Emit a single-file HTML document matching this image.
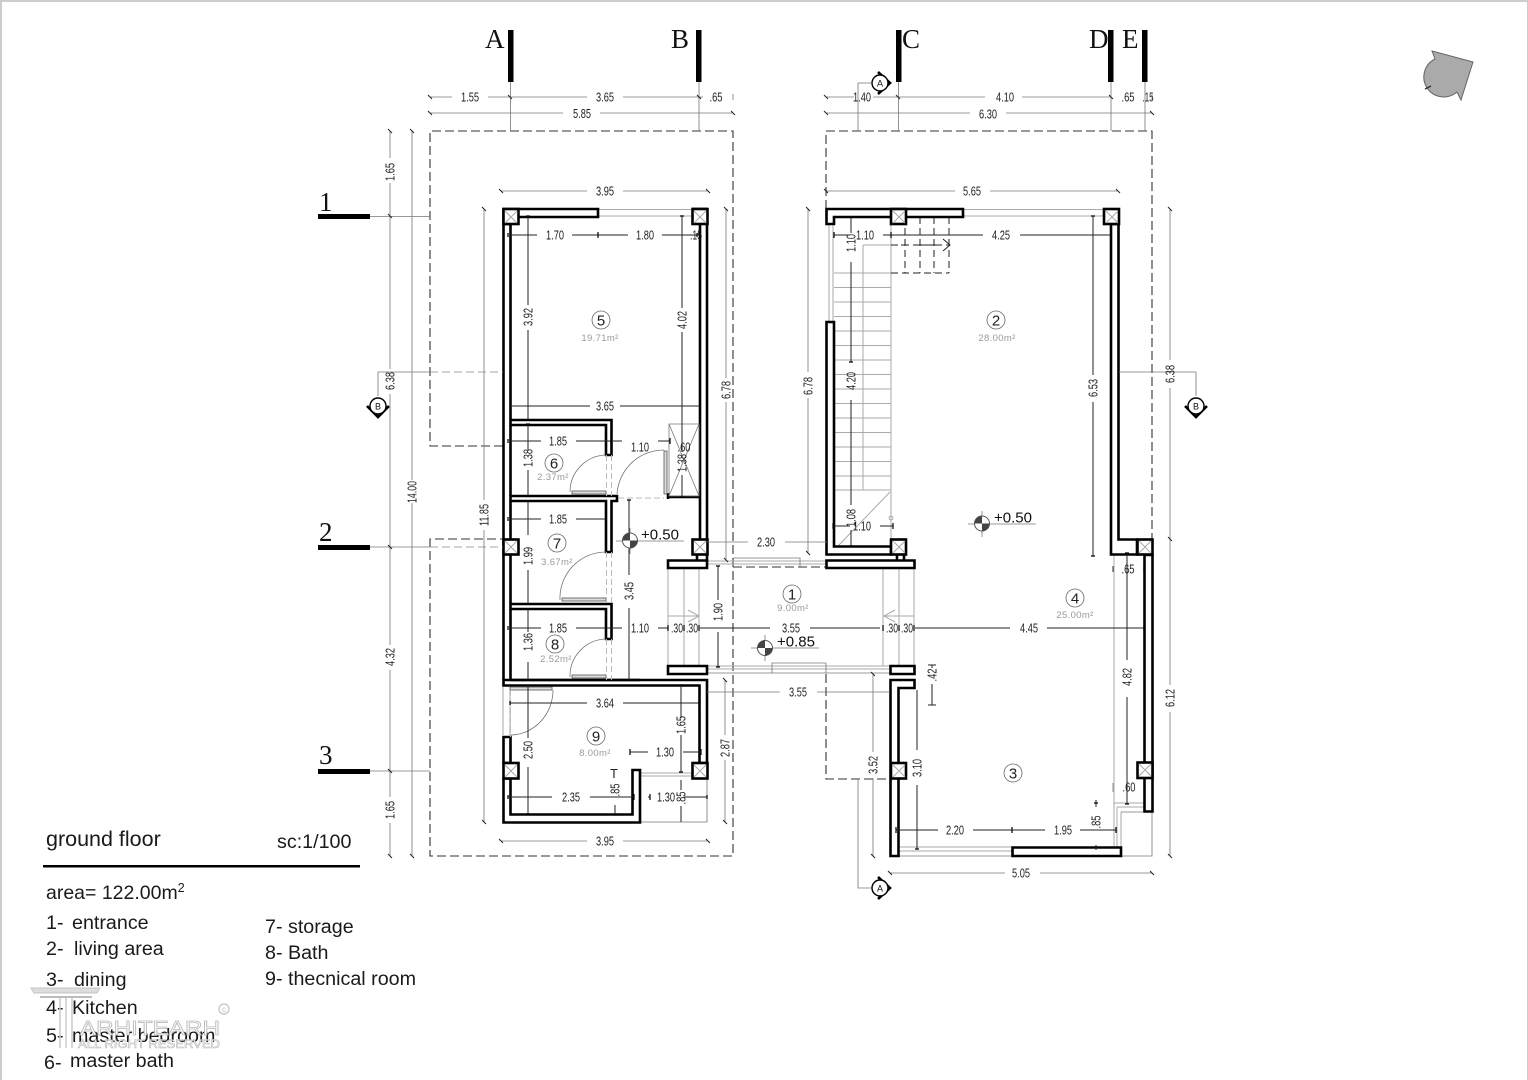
<!DOCTYPE html>
<html><head><meta charset="utf-8"><title>Ground floor plan</title>
<style>
html,body{margin:0;padding:0;background:#fff}
svg{display:block}
text{font-family:"Liberation Sans",sans-serif}
.t{font-size:12.5px;text-anchor:middle;fill:#222}
.a{font-size:9.5px;letter-spacing:.35px;text-anchor:middle;fill:#999}
.n{font-size:15px;text-anchor:middle;fill:#222}
.s{font-family:"Liberation Serif",serif;font-size:27px;fill:#111}
.g{fill:none;stroke:#777;stroke-width:.8}
.d{fill:none;stroke:#222;stroke-width:1}
.lg{fill:none;stroke:#aaa;stroke-width:1}
.w{fill:#fff;stroke:#000;stroke-width:2.6}
.h{fill:none;stroke:#000;stroke-width:2.6}
.dash{fill:none;stroke:#333;stroke-width:1.1;stroke-dasharray:9 4}
.c{fill:#fff;stroke:#666;stroke-width:.8}
</style></head><body>
<svg width="1528" height="1080" viewBox="0 0 1528 1080" xmlns="http://www.w3.org/2000/svg">
<rect width="1528" height="1080" fill="#fff"/>
<rect x="1" y="1" width="1527" height="1080" fill="none" stroke="#ccc" stroke-width="2"/>

<!-- dashed boundaries -->
<path class="dash" d="M503 446H430V131H733V856H430V539H503"/>
<path class="dash" d="M826 209V131H1152V539M826 674V779H890M733 567H826"/>

<!-- light lines -->
<path class="lg" d="M598 209.5H692M598 216H692M640 773H692M640 776H692M963 209.5H1104M963 216H1104"/>
<path class="g" d="M640 822H707V778"/>
<path class="lg" d="M707 561H826M707 564H826M707 666H890M707 669H890M668 568V666M684 568V666M699 568V666M883 568V666M899 568V666M914 568V666"/>
<path class="g" d="M733 558H800V567M772 673V663H826V673M707 673H890"/>
<path class="lg" d="M688 610L699 616L688 622M895 610L884 616L895 622M668 616H699M884 616H914"/>
<path class="lg" d="M899 847H1012M899 851H1012M1114 555V847M1114 803H1144M1117 807H1144M1117 807V847M1121 812V847"/>
<path class="g" d="M899 856H1152V812M1121 812H1144"/>
<path class="lg" d="M503 680V735M510 690V735" />

<!-- stairs -->
<path class="lg" d="M829 224V322M833 224V322M834 273H891M834 287.5H891M834 302H891M834 316.5H891M834 331H891M834 345.5H891M834 360H891M834 374.5H891M834 389H891M834 403.5H891M834 418H891M834 432.5H891M834 447H891M834 461.5H891M834 476H891M834 490H891M891 224V539M863 245V490M863 245H891M838 546L890 492"/>
<circle cx="891" cy="518" r="2" fill="none" stroke="#999" stroke-width=".8"/>
<path d="M891 245H949M891 273H949M905 217V273M920 217V273M934 217V273M949 217V273" fill="none" stroke="#222" stroke-width="1" stroke-dasharray="7 4"/>
<path class="d" d="M943 239L950 245L943 251M901 245H909M916 245H924M930 245H938"/>

<!-- WALLS left block -->
<path class="h" d="M503.5 224V680M510.5 224V420M510.5 425V496M510.5 501V604M510.5 609V680M700 224V539M707 224V539"/>
<path class="w" d="M503.5 209H598V217H510.5V224H503.5Z"/>
<path class="h" d="M692 209H707"/>
<path class="w" d="M510.5 420H611.5V455H606V425H510.5Z"/>
<path class="w" d="M510.5 496H617V501H611.5V552H606V501H510.5Z"/>
<path class="w" d="M510.5 604H611.5V639H606V609H510.5Z"/>
<path class="w" d="M503.5 680H707V763H699.5V685.5H503.5Z"/>
<path class="h" d="M510.5 680H640"/>
<path class="w" d="M503.5 737H510.5V763H503.5Z"/>
<path class="w" d="M503.5 778.5V822.5H640V770H632.5V814.5H510.5V778.5Z"/>
<path class="h" d="M668 497H699.5M668 493V499"/>
<path class="w" d="M697 554H707V561H697Z"/>
<path class="w" d="M668 560.5H707V568H668Z"/>
<path class="w" d="M668 666H707V674H668Z"/>

<!-- WALLS right block -->
<path class="w" d="M826.5 209H963V217H834V224H826.5Z"/>
<path class="w" d="M826.5 322H834V546.5H891V554.5H826.5Z"/>
<path class="w" d="M897 554H904V561H897Z"/>
<path class="w" d="M826.5 560.5H914.5V568H826.5Z"/>
<path class="w" d="M890.5 666H914.5V674H890.5Z"/>
<path class="w" d="M914.5 680H890.5V856H898.5V688H914.5Z"/>
<path class="w" d="M1012.5 847.5H1121V856H1012.5Z"/>
<path class="w" d="M1111 224V554.5H1137V539.5H1118.5V224Z"/>
<path class="w" d="M1144.5 555H1152.5V811.5H1144.5Z"/>

<!-- columns -->
<g fill="#fff" stroke="#000" stroke-width="2.6">
<rect x="503.5" y="209" width="15" height="15"/><rect x="692.5" y="209" width="15" height="15"/>
<rect x="503.5" y="539.5" width="15" height="15"/><rect x="692.5" y="539.5" width="15" height="15"/>
<rect x="503.5" y="763" width="15" height="15.5"/><rect x="692.5" y="763" width="15" height="15.5"/>
<rect x="891" y="209" width="15" height="15"/><rect x="1104" y="209" width="15" height="15"/>
<rect x="891" y="539.5" width="15" height="15"/><rect x="1137.5" y="539.5" width="15" height="15"/>
<rect x="891" y="763" width="15" height="15.5"/><rect x="1137.5" y="762.5" width="15" height="15.5"/>
</g>
<path class="lg" d="M505 211L517 223M517 211L505 223M694 211L706 223M706 211L694 223M505 541L517 553M517 541L505 553M694 541L706 553M706 541L694 553M505 765L517 777M517 765L505 777M694 765L706 777M706 765L694 777M893 211L905 223M905 211L893 223M1106 211L1118 223M1118 211L1106 223M893 541L905 553M905 541L893 553M1139 541L1151 553M1151 541L1139 553M893 765L905 777M905 765L893 777M1139 764L1151 776M1151 764L1139 776"/>

<!-- storage X -->
<path class="g" d="M669 424H699V496H669ZM669 424L699 496M699 424L669 496"/>

<!-- doors -->
<path class="g" d="M570 492A37 37 0 0 1 606 455M560 600A46 46 0 0 1 606 552M570 677A37 37 0 0 1 606 639M617 494A47 47 0 0 1 664 450M553 690A43 45 0 0 1 510 735"/>
<g fill="#ddd" stroke="#555" stroke-width=".8">
<rect x="572" y="491" width="34" height="3"/><rect x="562" y="598" width="44" height="3"/><rect x="572" y="675" width="34" height="3"/><rect x="664" y="451" width="3" height="43"/><rect x="510" y="687" width="42" height="3"/>
</g>
<path d="M606.5 455V496M611.5 455V496M606.5 552V604M611.5 552V604M606.5 639V680M611.5 639V680M618 498H664M510.5 690V737" fill="none" stroke="#bbb" stroke-width="1" stroke-dasharray="6 3"/>

<!-- section markers -->
<g fill="#000">
<rect x="508" y="30" width="5.5" height="52"/><rect x="696" y="30" width="5.5" height="52"/><rect x="896" y="30" width="5.5" height="52"/><rect x="1108" y="30" width="5.5" height="52"/><rect x="1142" y="30" width="5.5" height="52"/>
<rect x="318" y="214" width="52" height="5"/><rect x="318" y="545" width="52" height="5"/><rect x="318" y="769" width="52" height="5"/>
</g>
<text class="s" x="485" y="48">A</text><text class="s" x="671" y="48">B</text><text class="s" x="902" y="48">C</text><text class="s" x="1089" y="48">D</text><text class="s" x="1122" y="48">E</text>
<text class="s" x="319" y="211">1</text><text class="s" x="319" y="541">2</text><text class="s" x="319" y="764">3</text>

<!-- leaders -->
<path class="g" d="M510.5 82V131M699 82V131M898.5 82V131M1111 82V131M1145 82V131M370 216.5H430M370 547H430M370 771H430M378 396V372H430M1196 396V372H1119M858 131V83H871M858 779V888H871"/>
<path d="M430 372H503M430 547H503" fill="none" stroke="#888" stroke-width=".8" stroke-dasharray="8 4"/>

<!-- section bubbles -->
<g>
<path d="M878 72L890 83L878 94" fill="none" stroke="#000" stroke-width="2.600"/>
<circle cx="880" cy="83" r="8" fill="#fff" stroke="#000" stroke-width="1.400"/>
<path d="M878 877L890 888L878 899" fill="none" stroke="#000" stroke-width="2.600"/>
<circle cx="880" cy="888" r="8" fill="#fff" stroke="#000" stroke-width="1.400"/>
<path d="M367 406L378 417L389 406" fill="none" stroke="#000" stroke-width="2.600"/>
<circle cx="378" cy="406" r="8" fill="#fff" stroke="#000" stroke-width="1.400"/>
<path d="M1185 406L1196 417L1207 406" fill="none" stroke="#000" stroke-width="2.600"/>
<circle cx="1196" cy="406" r="8" fill="#fff" stroke="#000" stroke-width="1.400"/>
</g>
<g font-size="9" text-anchor="middle" fill="#111"><text x="880" y="86.500">A</text><text x="880" y="891.500">A</text><text x="378" y="409.500">B</text><text x="1196" y="409.500">B</text></g>

<!-- gray outer dim lines -->
<path class="g" d="M430 97H452M488 97H587M623 97H703M733 94V100
M430 113H563M600 113H733
M826 97H854M873 97H985M1022 97H1111M1152 94V100
M826 113H970M1006 113H1152
M501 191H587M623 191H708M826 191H955M990 191H1118
M390 131V158M390 183V369M390 394V645M390 670V797M390 823V856
M412 131V480M412 503V856
M484 209V500M484 530V822
M726 209V378M726 402V560M725 680V735M725 760V822
M808 209V372M808 398V553
M873 674V752M873 778V856
M1170 209V360M1170 388V685M1170 712V856
M501 841H587M623 841H708M890 873H1005M1040 873H1152
M707 542H748M785 542H827M707 692H780M817 692H890M528 216V305"/>

<!-- dark inner dim lines -->
<path class="d" d="M510 235H537M572 235H628M662 235H699
M528 330V420M528 216V305M682 216V308M682 332V452M682 475V497
M510 406H590M620 406H699
M510 441H541M576 441H622M658 441H670
M528 424V450M528 470V496
M510 519H541M576 519H606
M528 501V535M528 570V604
M510 628H541M576 628H622M658 628H668M700 628H770M810 628H880M915 628H1010M1047 628H1144
M528 609V632M528 662V680
M629 500V575M629 608V680
M718 566V600M718 632V667
M510 703H587M623 703H699
M681 685V718M681 735V772
M630 752H648M683 752H701
M528 685V738M528 767V814
M508 797H552M590 797H634M648 797H650M684 797H707
M615 805V814M681 780V790M681 806V822
M834 235H850M883 235H983M1020 235H1111
M851 217V233M851 262V362M851 400V505M851 530V546
M833 526H850M880 526H893
M1093 216V375M1093 402V556
M1127 553V660M1127 697V804
M917 690V750M917 785V849
M896 830H938M973 830H1045M1080 830H1116
M1096 800V807M1096 845V850
M932 665V668M932 684V705M928 705H936M928 665H936"/>

<!-- ticks -->
<path d="M428 95L432 99M508 95L512 99M697 95L701 99M428 111L432 115M731 111L735 115M824 95L828 99M896 95L900 99M1109 95L1113 99M824 111L828 115M1150 111L1154 115M499 189L503 193M706 189L710 193M824 189L828 193M1116 189L1120 193M388 129L392 133M388 214L392 218M388 545L392 549M388 769L392 773M388 854L392 858M410 129L414 133M410 854L414 858M482 207L486 211M482 820L486 824M724 207L728 211M724 558L728 562M723 678L727 682M723 820L727 824M806 207L810 211M806 551L810 555M871 672L875 676M871 854L875 858M1168 207L1172 211M1168 537L1172 541M1168 854L1172 858M499 839L503 843M706 839L710 843M888 871L892 875M1150 871L1154 875" stroke="#222" stroke-width="1"/>
<path d="M508 233V237M598 232V238M697 233V237M508 439V443M611 438V444M670 438V444M508 517V521M606 516V522M508 626V630M606 625V631M668 625V631M684 625V631M699 625V631M883 625V631M899 625V631M914 625V631M1144 625V631M510 701V705M699 701V705M630 749V755M701 749V755M508 795V799M634 794V800M650 794V800M707 795V799M834 232V238M891 232V238M1111 232V238M833 523V529M893 523V529M896 827V833M1012 827V833M1116 827V833M1113 566V572M1144 566V572" stroke="#000" stroke-width="1.200"/>
<path d="M526 216H530M680 216H684M526 420H530M680 497H684M526 424H530M526 496H530M526 501H530M526 604H530M526 680H530M526 814H530M627 500H631M627 680H631M716 566H720M716 667H720M679 685H683M679 772H683M849 217H853M849 362H853M849 546H853M1091 216H1095M1091 556H1095M1125 553H1129M1125 804H1129M915 849H919M1094 803H1098" stroke="#000" stroke-width="1.200"/>
<path class="g" d="M1113 566V572M1113 783V792"/>

<!-- dim text -->
<g class="t" lengthAdjust="spacingAndGlyphs">
<text class="t" textLength="18" lengthAdjust="spacingAndGlyphs" x="470" y="101.500">1.55</text><text class="t" textLength="18" lengthAdjust="spacingAndGlyphs" x="605" y="101.500">3.65</text><text class="t" textLength="13" lengthAdjust="spacingAndGlyphs" x="716" y="101.500">.65</text><text class="t" textLength="18" lengthAdjust="spacingAndGlyphs" x="582" y="118">5.85</text>
<text class="t" textLength="18" lengthAdjust="spacingAndGlyphs" x="862" y="101.500">1.40</text><text class="t" textLength="18" lengthAdjust="spacingAndGlyphs" x="1005" y="101.500">4.10</text><text class="t" textLength="13" lengthAdjust="spacingAndGlyphs" x="1128" y="101.500">.65</text><text class="t" textLength="11" lengthAdjust="spacingAndGlyphs" x="1148" y="101.500">.15</text><text class="t" textLength="18" lengthAdjust="spacingAndGlyphs" x="988" y="118.500">6.30</text>
<text class="t" textLength="18" lengthAdjust="spacingAndGlyphs" x="605" y="195.500">3.95</text><text class="t" textLength="18" lengthAdjust="spacingAndGlyphs" x="972" y="195.500">5.65</text>
<text class="t" textLength="18" lengthAdjust="spacingAndGlyphs" x="555" y="239.500">1.70</text><text class="t" textLength="18" lengthAdjust="spacingAndGlyphs" x="645" y="239.500">1.80</text><text class="t" textLength="12" lengthAdjust="spacingAndGlyphs" x="696" y="239.500">.15</text>
<text class="t" textLength="18" lengthAdjust="spacingAndGlyphs" x="605" y="410.500">3.65</text><text class="t" textLength="18" lengthAdjust="spacingAndGlyphs" x="558" y="445.500">1.85</text><text class="t" textLength="18" lengthAdjust="spacingAndGlyphs" x="640" y="451.500">1.10</text>
<text class="t" textLength="18" lengthAdjust="spacingAndGlyphs" x="558" y="523.500">1.85</text><text class="t" textLength="18" lengthAdjust="spacingAndGlyphs" x="558" y="632.500">1.85</text><text class="t" textLength="18" lengthAdjust="spacingAndGlyphs" x="640" y="632.500">1.10</text>
<text class="t" textLength="12" lengthAdjust="spacingAndGlyphs" x="677" y="632.500">.30</text><text class="t" textLength="12" lengthAdjust="spacingAndGlyphs" x="692" y="632.500">.30</text><text class="t" textLength="18" lengthAdjust="spacingAndGlyphs" x="791" y="632.500">3.55</text><text class="t" textLength="12" lengthAdjust="spacingAndGlyphs" x="892" y="632.500">.30</text><text class="t" textLength="12" lengthAdjust="spacingAndGlyphs" x="907" y="632.500">.30</text><text class="t" textLength="18" lengthAdjust="spacingAndGlyphs" x="1029" y="632.500">4.45</text>
<text class="t" textLength="13" lengthAdjust="spacingAndGlyphs" x="684" y="451.500">.60</text>
<text class="t" textLength="18" lengthAdjust="spacingAndGlyphs" x="766" y="546.500">2.30</text><text class="t" textLength="18" lengthAdjust="spacingAndGlyphs" x="798" y="696.500">3.55</text>
<text class="t" textLength="18" lengthAdjust="spacingAndGlyphs" x="605" y="707.500">3.64</text><text class="t" textLength="18" lengthAdjust="spacingAndGlyphs" x="665" y="756.500">1.30</text><text class="t" textLength="18" lengthAdjust="spacingAndGlyphs" x="571" y="801.500">2.35</text><text class="t" textLength="18" lengthAdjust="spacingAndGlyphs" x="666" y="801.500">1.30</text><text class="t" x="614" y="778">T</text>
<text class="t" textLength="18" lengthAdjust="spacingAndGlyphs" x="605" y="845.500">3.95</text><text class="t" textLength="18" lengthAdjust="spacingAndGlyphs" x="865" y="239.500">1.10</text><text class="t" textLength="18" lengthAdjust="spacingAndGlyphs" x="1001" y="239.500">4.25</text><text class="t" textLength="18" lengthAdjust="spacingAndGlyphs" x="862" y="530.500">1.10</text>
<text class="t" textLength="13" lengthAdjust="spacingAndGlyphs" x="1128" y="573.500">.65</text><text class="t" textLength="13" lengthAdjust="spacingAndGlyphs" x="1129" y="791.500">.60</text><text class="t" textLength="18" lengthAdjust="spacingAndGlyphs" x="955" y="834.500">2.20</text><text class="t" textLength="18" lengthAdjust="spacingAndGlyphs" x="1063" y="834.500">1.95</text><text class="t" textLength="18" lengthAdjust="spacingAndGlyphs" x="1021" y="877.500">5.05</text>
<text class="t" textLength="18" lengthAdjust="spacingAndGlyphs" transform="rotate(-90 394.500 172)" x="394.500" y="172">1.65</text>
<text class="t" textLength="18" lengthAdjust="spacingAndGlyphs" transform="rotate(-90 394.500 381)" x="394.500" y="381">6.38</text>
<text class="t" textLength="18" lengthAdjust="spacingAndGlyphs" transform="rotate(-90 394.500 657)" x="394.500" y="657">4.32</text>
<text class="t" textLength="18" lengthAdjust="spacingAndGlyphs" transform="rotate(-90 394.500 810)" x="394.500" y="810">1.65</text>
<text class="t" textLength="22" lengthAdjust="spacingAndGlyphs" transform="rotate(-90 416.500 492)" x="416.500" y="492">14.00</text>
<text class="t" textLength="22" lengthAdjust="spacingAndGlyphs" transform="rotate(-90 488.500 515)" x="488.500" y="515">11.85</text>
<text class="t" textLength="18" lengthAdjust="spacingAndGlyphs" transform="rotate(-90 730.500 390)" x="730.500" y="390">6.78</text>
<text class="t" textLength="18" lengthAdjust="spacingAndGlyphs" transform="rotate(-90 729.500 748)" x="729.500" y="748">2.87</text>
<text class="t" textLength="18" lengthAdjust="spacingAndGlyphs" transform="rotate(-90 812.500 386)" x="812.500" y="386">6.78</text>
<text class="t" textLength="18" lengthAdjust="spacingAndGlyphs" transform="rotate(-90 877.500 765)" x="877.500" y="765">3.52</text>
<text class="t" textLength="18" lengthAdjust="spacingAndGlyphs" transform="rotate(-90 1174.500 374)" x="1174.500" y="374">6.38</text>
<text class="t" textLength="18" lengthAdjust="spacingAndGlyphs" transform="rotate(-90 1174.500 698)" x="1174.500" y="698">6.12</text>
<text class="t" textLength="18" lengthAdjust="spacingAndGlyphs" transform="rotate(-90 532.500 317)" x="532.500" y="317">3.92</text>
<text class="t" textLength="18" lengthAdjust="spacingAndGlyphs" transform="rotate(-90 686.500 320)" x="686.500" y="320">4.02</text>
<text class="t" textLength="18" lengthAdjust="spacingAndGlyphs" transform="rotate(-90 686.500 463)" x="686.500" y="463">1.38</text>
<text class="t" textLength="18" lengthAdjust="spacingAndGlyphs" transform="rotate(-90 532.500 458)" x="532.500" y="458">1.38</text>
<text class="t" textLength="18" lengthAdjust="spacingAndGlyphs" transform="rotate(-90 532.500 556)" x="532.500" y="556">1.99</text>
<text class="t" textLength="18" lengthAdjust="spacingAndGlyphs" transform="rotate(-90 532.500 642)" x="532.500" y="642">1.36</text>
<text class="t" textLength="18" lengthAdjust="spacingAndGlyphs" transform="rotate(-90 633.500 591)" x="633.500" y="591">3.45</text>
<text class="t" textLength="18" lengthAdjust="spacingAndGlyphs" transform="rotate(-90 722.500 612)" x="722.500" y="612">1.90</text>
<text class="t" textLength="13" lengthAdjust="spacingAndGlyphs" transform="rotate(-90 936.500 675)" x="936.500" y="675">.42</text>
<text class="t" textLength="18" lengthAdjust="spacingAndGlyphs" transform="rotate(-90 685.500 725)" x="685.500" y="725">1.65</text>
<text class="t" textLength="18" lengthAdjust="spacingAndGlyphs" transform="rotate(-90 532.500 750)" x="532.500" y="750">2.50</text>
<text class="t" textLength="13" lengthAdjust="spacingAndGlyphs" transform="rotate(-90 619.500 790)" x="619.500" y="790">.85</text>
<text class="t" textLength="13" lengthAdjust="spacingAndGlyphs" transform="rotate(-90 685.500 798)" x="685.500" y="798">.85</text>
<text class="t" textLength="18" lengthAdjust="spacingAndGlyphs" transform="rotate(-90 855.500 243)" x="855.500" y="243">1.10</text>
<text class="t" textLength="18" lengthAdjust="spacingAndGlyphs" transform="rotate(-90 855.500 381)" x="855.500" y="381">4.20</text>
<text class="t" textLength="18" lengthAdjust="spacingAndGlyphs" transform="rotate(-90 855.500 518)" x="855.500" y="518">1.08</text>
<text class="t" textLength="18" lengthAdjust="spacingAndGlyphs" transform="rotate(-90 1097.500 388)" x="1097.500" y="388">6.53</text>
<text class="t" textLength="18" lengthAdjust="spacingAndGlyphs" transform="rotate(-90 1131.500 677)" x="1131.500" y="677">4.82</text>
<text class="t" textLength="18" lengthAdjust="spacingAndGlyphs" transform="rotate(-90 921.500 768)" x="921.500" y="768">3.10</text>
<text class="t" textLength="13" lengthAdjust="spacingAndGlyphs" transform="rotate(-90 1100.500 822)" x="1100.500" y="822">.85</text>
</g>

<!-- room tags -->
<circle class="c" cx="601" cy="320" r="9"/><text class="n" x="601" y="325.500">5</text><text class="a" x="600" y="341">19.71m²</text>
<circle class="c" cx="996" cy="320" r="9"/><text class="n" x="996" y="325.500">2</text><text class="a" x="997" y="341">28.00m²</text>
<circle class="c" cx="554" cy="463" r="9"/><text class="n" x="554" y="468.500">6</text><text class="a" x="553" y="480">2.37m²</text>
<circle class="c" cx="557" cy="543" r="9"/><text class="n" x="557" y="548.500">7</text><text class="a" x="557" y="565">3.67m²</text>
<circle class="c" cx="555" cy="644" r="9"/><text class="n" x="555" y="649.500">8</text><text class="a" x="556" y="662">2.52m²</text>
<circle class="c" cx="596" cy="736" r="9"/><text class="n" x="596" y="741.500">9</text><text class="a" x="595" y="756">8.00m²</text>
<circle class="c" cx="792" cy="594" r="9"/><text class="n" x="792" y="599.500">1</text><text class="a" x="793" y="611">9.00m²</text>
<circle class="c" cx="1075" cy="598" r="9"/><text class="n" x="1075" y="603.500">4</text><text class="a" x="1075" y="618">25.00m²</text>
<circle class="c" cx="1013" cy="773" r="9"/><text class="n" x="1013" y="778.500">3</text>

<!-- level marks -->
<g>
<path class="g" d="M616 541H684M630 528V554"/>
<circle cx="630" cy="540.500" r="7.500" fill="#fff" stroke="#555"/><path d="M630 533A7.500 7.500 0 0 0 622.500 540.500H630ZM630 548A7.500 7.500 0 0 0 637.500 540.500H630Z" fill="#444"/>
<path class="g" d="M968 524H1036M982 511V537"/>
<circle cx="982" cy="523.500" r="7.500" fill="#fff" stroke="#555"/><path d="M982 516A7.500 7.500 0 0 0 974.500 523.500H982ZM982 531A7.500 7.500 0 0 0 989.500 523.500H982Z" fill="#444"/>
<path class="g" d="M751 648H819M765 635V661"/>
<circle cx="765" cy="648" r="7.500" fill="#fff" stroke="#555"/><path d="M765 640.500A7.500 7.500 0 0 0 757.500 648H765ZM765 655.500A7.500 7.500 0 0 0 772.500 648H765Z" fill="#444"/>
</g>
<g font-size="15" fill="#111"><text x="641" y="539.500">+0.50</text><text x="994" y="522.500">+0.50</text><text x="777" y="646.500">+0.85</text></g>

<!-- north -->
<path d="M1432 51L1473 62L1461 100L1457 92A20 20 0 1 1 1435 59Z" fill="#aaa" stroke="#666" stroke-width="1"/>
<path d="M1425 89L1431 86" stroke="#333" stroke-width="1.500"/>

<!-- title -->
<text x="46" y="846" font-size="21.500" fill="#1a1a1a">ground floor</text>
<text x="277" y="848" font-size="19.700" fill="#1a1a1a">sc:1/100</text>
<rect x="43" y="865" width="317" height="2.500" fill="#000"/>
<text x="46" y="899" font-size="19.500" fill="#1a1a1a">area= 122.00m<tspan font-size="12.500" dy="-7">2</tspan></text>
<g font-size="19.700" fill="#1a1a1a">
<text x="46" y="929">1-</text><text x="72" y="929">entrance</text>
<text x="46" y="955">2-</text><text x="74" y="955">living area</text>
<text x="46" y="986">3-</text><text x="74" y="986">dining</text>
<text x="46" y="1014">4-</text><text x="72" y="1014">Kitchen</text>
<text x="46" y="1042">5-</text><text x="72" y="1042">master bedroom</text>
<text x="44" y="1069">6-</text><text x="70" y="1067">master bath</text>
<text x="265" y="933">7- storage</text>
<text x="265" y="959">8- Bath</text>
<text x="265" y="985">9- thecnical room</text>
</g>

<!-- watermark -->
<g>
<path d="M31 988H100L97 993H34Z" fill="#ddd" stroke="#c4c4c4" stroke-width="1"/>
<path d="M40 997H92" stroke="#bbb" stroke-width="2"/>
<path d="M60 998V1048M66 998V1048M72 998V1048" stroke="#ccc" stroke-width="1.500" fill="none"/>
<text x="80" y="1035" font-size="20" textLength="140" lengthAdjust="spacingAndGlyphs" fill="#fff" stroke="#bbb" stroke-width=".8">ARHITEARH</text>
<text x="78" y="1048" font-size="11.500" textLength="142" lengthAdjust="spacingAndGlyphs" fill="#fff" stroke="#bbb" stroke-width=".6">ALL RIGHT RESERVED</text>
<circle cx="224" cy="1009" r="5" fill="none" stroke="#ccc" stroke-width="1.500"/>
<text x="224" y="1012" font-size="8" text-anchor="middle" fill="#bbb">c</text>
</g>
</svg>
</body></html>
